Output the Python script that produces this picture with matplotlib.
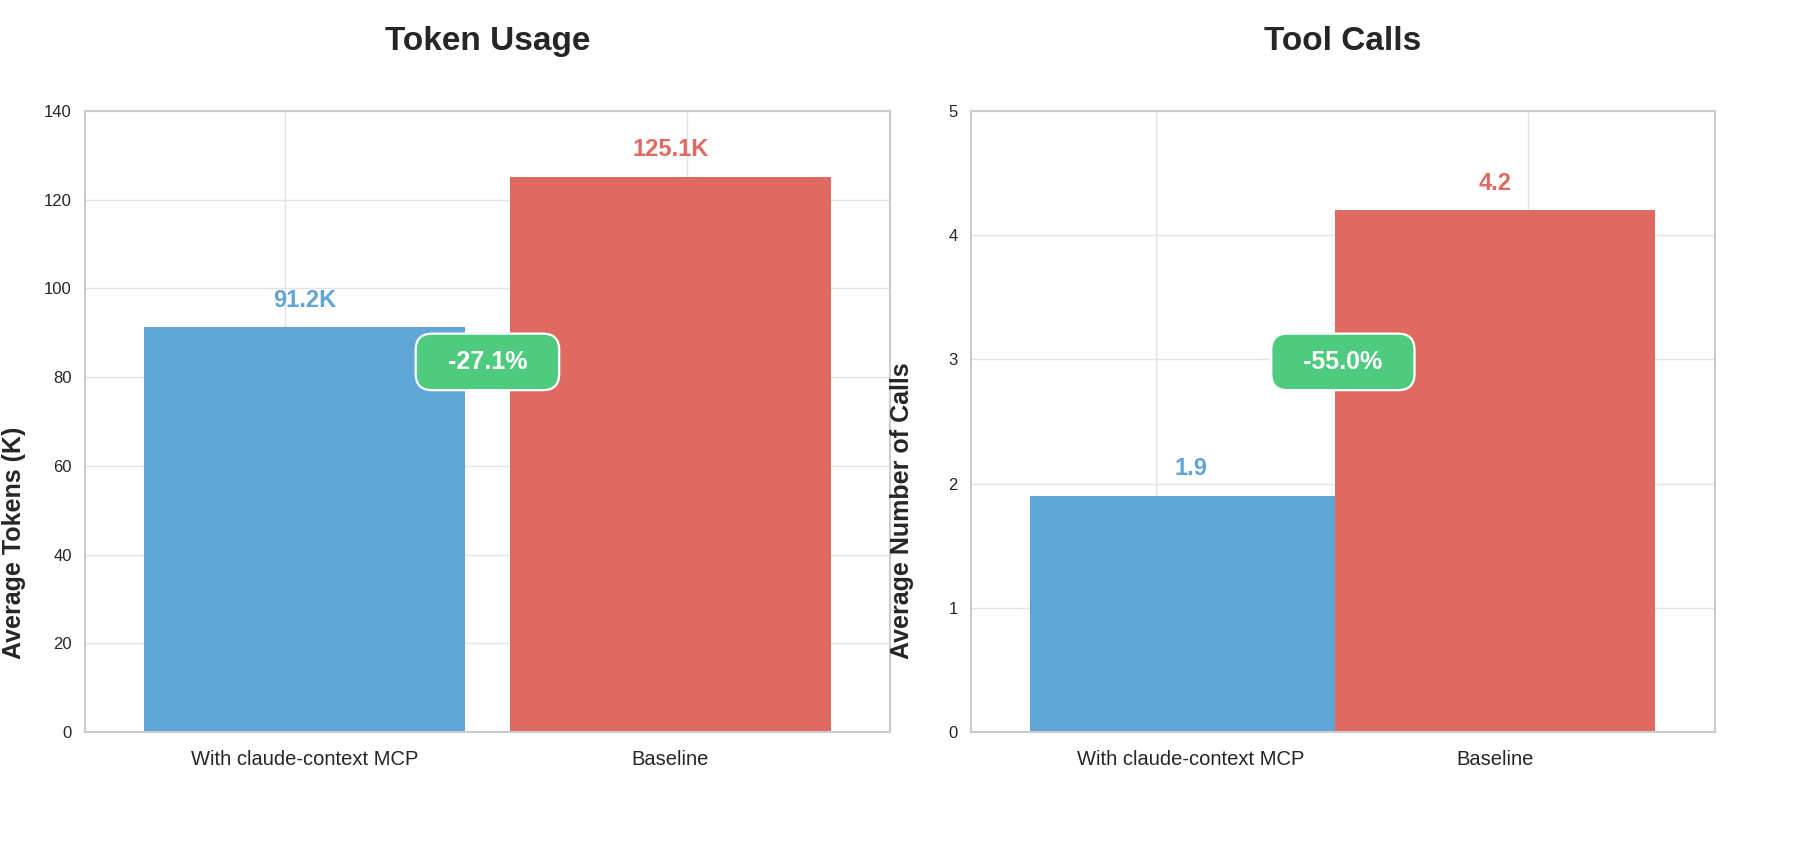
"""Token usage and tool calls: claude-context MCP vs baseline."""
import numpy as np
import matplotlib
matplotlib.use("Agg")
import matplotlib.pyplot as plt
from matplotlib.patches import BoxStyle

plt.rcParams["font.family"] = ["Liberation Sans", "DejaVu Sans"]

CATEGORIES = ["With claude-context MCP", "Baseline"]
TOKENS_K = [91.2, 125.1]
TOOL_CALLS = [1.9, 4.2]
CHANGE_PCT = [-27.1, -55.0]
TOKEN_TICKS = [0, 20, 40, 60, 80, 100, 120, 140]
CALL_TICKS = [0, 1, 2, 3, 4, 5]

BLUE = "#5FA5D6"
RED = "#DF6A61"
GREEN = "#4FCB7F"
DARK = "#262626"


def badge_box(x0, y0, width, height, mutation_size):
    # rounded box, a bit more padding left/right than top/bottom
    extra = 0.63 * mutation_size
    return BoxStyle.Round(pad=0.65)(x0 - extra, y0, width + 2 * extra, height, mutation_size)


def draw_panel(ax, values, ticks, fmt, change, title, ylabel, width, xlim, grid_x, ylabel_x):
    x = np.arange(len(CATEGORIES))
    colors = [BLUE, RED]
    ax.bar(x, values, width=width, color=colors, zorder=2)
    for xi, v, c in zip(x, values, colors):
        ax.annotate(fmt.format(v), (xi, v), xytext=(0, 15), textcoords="offset points",
                    ha="center", va="baseline", color=c, fontsize=17, fontweight="bold")

    ax.text(0.5, 0.596, f"{change:.1f}%", transform=ax.transAxes, ha="center", va="center",
            color="white", fontsize=18, fontweight="bold", zorder=5,
            bbox=dict(boxstyle=badge_box, facecolor=GREEN, edgecolor="white", linewidth=1.6))

    ax.set_xlim(*xlim)
    ax.set_ylim(ticks[0], ticks[-1])
    ax.set_yticks(ticks)
    ax.set_xticks(x, CATEGORIES)
    ax.set_xticks(grid_x, minor=True)
    ax.set_axisbelow(True)
    ax.grid(axis="y", which="major", color="#e3e3e3", linewidth=1)
    ax.grid(axis="x", which="minor", color="#e3e3e3", linewidth=1)
    ax.tick_params(axis="both", which="both", length=0, colors=DARK)
    ax.tick_params(axis="x", labelsize=14.5, pad=13)
    ax.tick_params(axis="y", labelsize=12, pad=9.5)
    for sp in ax.spines.values():
        sp.set_color("#cccccc")
        sp.set_linewidth(1.5)

    ax.set_title(title, fontsize=24, fontweight="bold", color=DARK, pad=44)
    ax.set_ylabel(ylabel, fontsize=18, fontweight="bold", color=DARK, ha="left")
    ax.yaxis.set_label_coords(ylabel_x, 0.118)


def main():
    fig = plt.figure(figsize=(18, 8.5), dpi=100)
    ax1 = fig.add_axes([0.0472, 0.1388, 0.4472, 0.7306])
    ax2 = fig.add_axes([0.5394, 0.1388, 0.4133, 0.7306])

    draw_panel(ax1, TOKENS_K, TOKEN_TICKS, "{:.1f}K", CHANGE_PCT[0], "Token Usage",
               "Average Tokens (K)", 0.877, (-0.6, 1.6), [-0.052, 1.046], -0.073)
    draw_panel(ax2, TOOL_CALLS, CALL_TICKS, "{:.1f}", CHANGE_PCT[1], "Tool Calls",
               "Average Number of Calls", 1.054, (-0.721, 1.722), [-0.113, 1.108], -0.077)

    fig.savefig("out.png", dpi=100, facecolor="white")
    plt.close(fig)


if __name__ == "__main__":
    main()
